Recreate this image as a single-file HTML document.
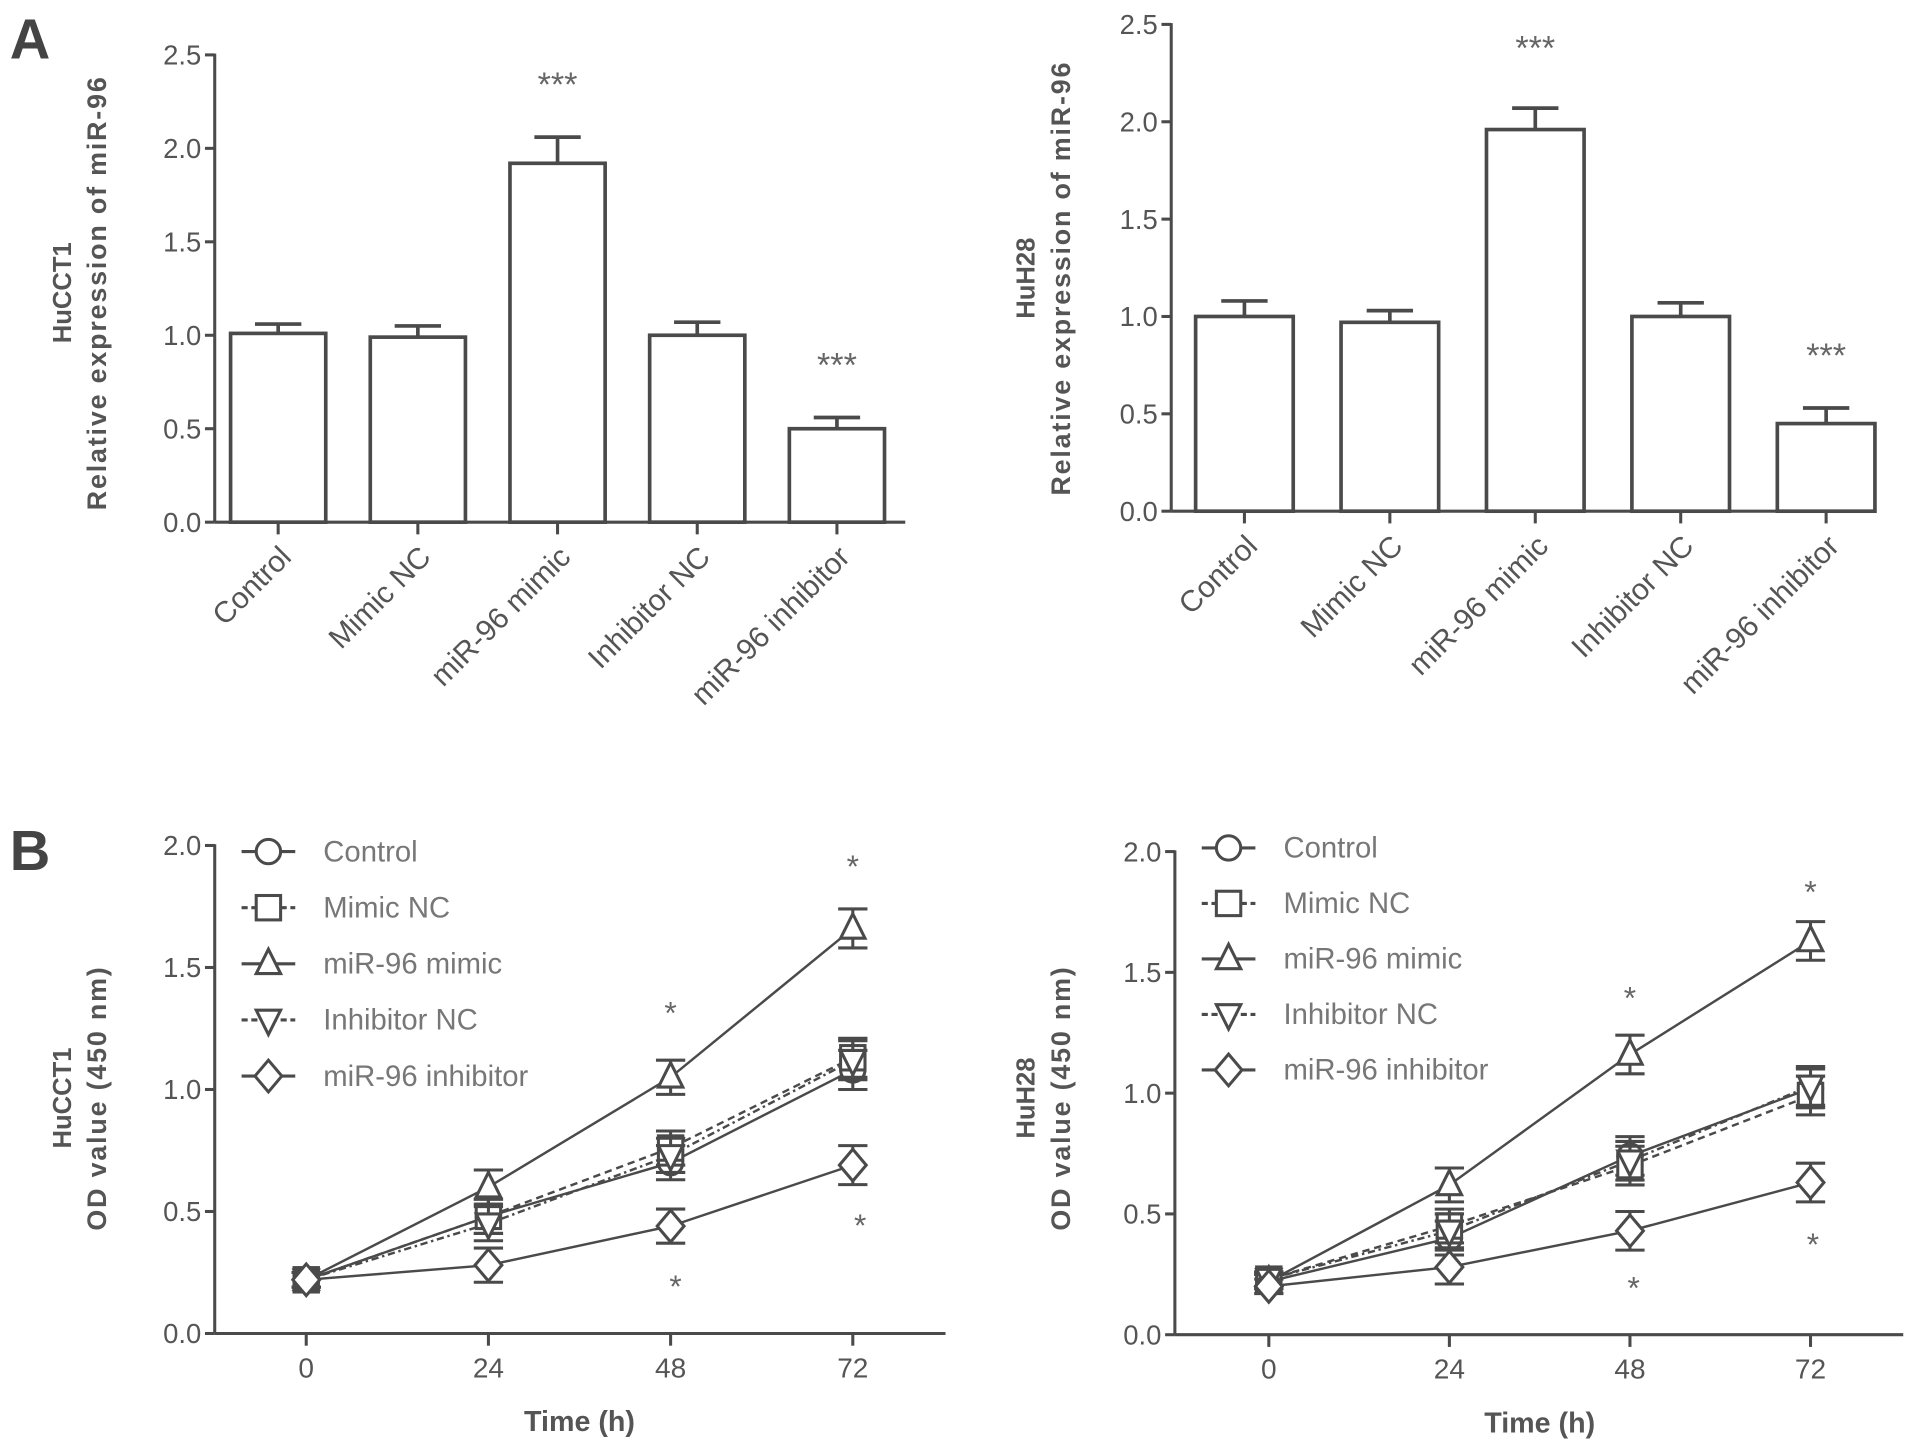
<!DOCTYPE html>
<html><head><meta charset="utf-8">
<style>
html,body{margin:0;padding:0;background:#fff;}
svg{display:block;}
text{font-family:"Liberation Sans",Arial,sans-serif;}
</style></head>
<body>
<svg id="fig" width="1913" height="1450" viewBox="0 0 1568 1188.5" xmlns="http://www.w3.org/2000/svg">
<text x="8" y="48" font-size="46" font-weight="bold" fill="#444">A</text>
<text x="8" y="713" font-size="46" font-weight="bold" fill="#444">B</text>
</svg>
<script>
const barCategories = ["Control","Mimic NC","miR-96 mimic","Inhibitor NC","miR-96 inhibitor"];
const barValuesHuCCT1 = [1.01,0.99,1.92,1.00,0.50];
const barErrHuCCT1 = [0.05,0.06,0.14,0.07,0.06];
const barValuesHuH28 = [1.00,0.97,1.96,1.00,0.45];
const barErrHuH28 = [0.08,0.06,0.11,0.07,0.08];
const barYTicks = [0,0.5,1.0,1.5,2.0,2.5];
const barYTickLabels = ["0.0","0.5","1.0","1.5","2.0","2.5"];

const timePoints = [0,24,48,72];
const lineYTicks = [0,0.5,1.0,1.5,2.0];
const lineYTickLabels = ["0.0","0.5","1.0","1.5","2.0"];
const seriesNames = ["Control","Mimic NC","miR-96 mimic","Inhibitor NC","miR-96 inhibitor"];
const huCCT1Control = [0.22,0.48,0.70,1.08];
const huCCT1MimicNC = [0.22,0.48,0.76,1.13];
const huCCT1Mimic = [0.22,0.60,1.05,1.66];
const huCCT1InhNC = [0.22,0.45,0.73,1.12];
const huCCT1Inh = [0.22,0.28,0.44,0.69];
const huCCT1Err = [0.03,0.07,0.07,0.08];
const huH28Control = [0.22,0.40,0.74,1.02];
const huH28MimicNC = [0.23,0.45,0.70,0.99];
const huH28Mimic = [0.22,0.62,1.16,1.63];
const huH28InhNC = [0.23,0.43,0.72,1.03];
const huH28Inh = [0.20,0.28,0.43,0.63];
const huH28Err = [0.03,0.07,0.08,0.08];

const svg = document.getElementById('fig');
const NS = "http://www.w3.org/2000/svg";
function mk(tag, attrs, parent){
  const e = document.createElementNS(NS, tag);
  for (const k in attrs) e.setAttribute(k, attrs[k]);
  (parent||svg).appendChild(e);
  return e;
}
const C = "#4a4a4a";

function barChart(p){
  const g = mk('g', {});
  
  
  const y = v => p.y0 + (p.y1 - p.y0) * v / 2.5;
  const x = i => p.firstC + i * p.step;
  const ya = mk('line', {x1:p.x0,y1:p.y1-1,x2:p.x0,y2:p.y0,stroke:C,'stroke-width':2.5}, g);
  
  
  const xa = mk('line', {x1:p.x0,y1:p.y0,x2:p.xEnd,y2:p.y0,stroke:C,'stroke-width':2.5}, g);
  
  
  barYTicks.forEach((t, i) => {
    mk('line', {x1:p.x0-8,y1:y(t),x2:p.x0,y2:y(t),stroke:C,'stroke-width':2.5}, g);
    const tl = mk('text', {x:p.x0-11,y:y(t)+8,'font-size':22.5,'text-anchor':'end',fill:'#555'}, g);
    tl.textContent = barYTickLabels[i];
    
    
  });
  barCategories.forEach((c, i) => {
    const cx = x(i), v = p.vals[i], e = p.errs[i];
    mk('line', {x1:cx,y1:p.y0,x2:cx,y2:p.y0+10,stroke:C,'stroke-width':2.5}, g);
    mk('line', {x1:cx,y1:y(v),x2:cx,y2:y(v+e),stroke:C,'stroke-width':3}, g);
    mk('line', {x1:cx-19,y1:y(v+e),x2:cx+19,y2:y(v+e),stroke:C,'stroke-width':3}, g);
    const r = mk('rect', {x:cx-p.bw/2,y:y(v),width:p.bw,height:p.y0-y(v),fill:'#fff',stroke:C,'stroke-width':3}, g);
    
    
    const lb = mk('text', {x:0,y:0,'font-size':24.5,'text-anchor':'end',fill:'#555',
      transform:`translate(${cx+12},${p.y0+30}) rotate(-45)`}, g);
    lb.textContent = c;
    
    
  });
  p.stars.forEach(s => {
    const st = mk('text', {x:x(s[0]),y:y(s[1]),'font-size':28,'text-anchor':'middle',fill:'#666'}, g);
    st.textContent = '***';
    
    
  });
  const t1 = mk('text', {x:0,y:0,'font-size':21,'font-weight':'bold','text-anchor':'middle',fill:'#555',
    transform:`translate(${p.labX},${p.labY}) rotate(-90)`}, g);
  t1.textContent = p.cell;
  
  
  const t2 = mk('text', {x:0,y:0,'font-size':22,'font-weight':'bold','text-anchor':'middle',fill:'#555','letter-spacing':'1.5',
    transform:`translate(${p.labX+29},${p.labY}) rotate(-90)`}, g);
  t2.textContent = 'Relative expression of miR-96';
  
  
}

barChart({name:'bar-chart-hucct1', x0:176, xEnd:742, y0:428, y1:45, firstC:228, step:114.5, bw:78,
  vals:barValuesHuCCT1, errs:barErrHuCCT1, stars:[[2,2.28],[4,0.78]], cell:'HuCCT1', labX:58, labY:240});
barChart({name:'bar-chart-huh28', x0:960, xEnd:1530, y0:419, y1:20, firstC:1020, step:119.2, bw:80,
  vals:barValuesHuH28, errs:barErrHuH28, stars:[[2,2.32],[4,0.74]], cell:'HuH28', labX:848, labY:228});

function marker(g, type, cx, cy, fill){
  const s = 10;
  const a = {fill:fill||'#fff', stroke:C, 'stroke-width':2.5};
  let m;
  if (type==='circle') m = mk('circle', Object.assign({cx:cx,cy:cy,r:s}, a), g);
  else if (type==='square') m = mk('rect', Object.assign({x:cx-s,y:cy-s,width:2*s,height:2*s}, a), g);
  else if (type==='tri') m = mk('polygon', Object.assign({points:`${cx},${cy-s-2} ${cx-s},${cy+s-2} ${cx+s},${cy+s-2}`}, a), g);
  else if (type==='itri') m = mk('polygon', Object.assign({points:`${cx},${cy+s+2} ${cx-s},${cy-s+2} ${cx+s},${cy-s+2}`}, a), g);
  else m = mk('polygon', Object.assign({points:`${cx},${cy-s-3} ${cx+s+1},${cy} ${cx},${cy+s+3} ${cx-s-1},${cy}`}, a), g);
  return m;
}

const markerTypes = ['circle','square','tri','itri','diamond'];
const dashes = ['none','6,4','none','6,3,2,3','none'];

function lineChart(p){
  const g = mk('g', {});
  
  
  const y = v => p.y0 + (p.y2 - p.y0) * v / 2.0;
  const x = t => p.xt0 + (p.xt72 - p.xt0) * t / 72;
  const ya = mk('line', {x1:p.x0,y1:p.y2-1,x2:p.x0,y2:p.y0,stroke:C,'stroke-width':2.5}, g);
  
  
  const xa = mk('line', {x1:p.x0,y1:p.y0,x2:p.xEnd,y2:p.y0,stroke:C,'stroke-width':2.5}, g);
  
  
  lineYTicks.forEach((t, i) => {
    mk('line', {x1:p.x0-8,y1:y(t),x2:p.x0,y2:y(t),stroke:C,'stroke-width':2.5}, g);
    const tl = mk('text', {x:p.x0-11,y:y(t)+8,'font-size':22.5,'text-anchor':'end',fill:'#555'}, g);
    tl.textContent = lineYTickLabels[i];
    
    
  });
  timePoints.forEach(t => {
    mk('line', {x1:x(t),y1:p.y0,x2:x(t),y2:p.y0+10,stroke:C,'stroke-width':2.5}, g);
    const tl = mk('text', {x:x(t),y:p.y0+36,'font-size':23,'text-anchor':'middle',fill:'#555'}, g);
    tl.textContent = String(t);
    
    
  });
  const xt = mk('text', {x:(p.xt0+p.xt72)/2,y:p.y0+80,'font-size':23.5,'font-weight':'bold','text-anchor':'middle',fill:'#555'}, g);
  xt.textContent = 'Time (h)';
  
  
  p.series.forEach((vals, si) => {
    const pts = timePoints.map((t, i) => `${x(t)},${y(vals[i])}`).join(' ');
    const pl = mk('polyline', {points:pts,fill:'none',stroke:C,'stroke-width':2,'stroke-dasharray':dashes[si]}, g);
    
    
  });
  p.series.forEach((vals, si) => {
    timePoints.forEach((t, i) => {
      const cx = x(t), e = p.err[i];
      mk('line', {x1:cx,y1:y(vals[i]-e),x2:cx,y2:y(vals[i]+e),stroke:C,'stroke-width':2.5}, g);
      mk('line', {x1:cx-12,y1:y(vals[i]+e),x2:cx+12,y2:y(vals[i]+e),stroke:C,'stroke-width':2.5}, g);
      mk('line', {x1:cx-12,y1:y(vals[i]-e),x2:cx+12,y2:y(vals[i]-e),stroke:C,'stroke-width':2.5}, g);
      const m = marker(g, markerTypes[si], cx, y(vals[i]));
      
      
    });
  });
  p.stars.forEach(s => {
    const st = mk('text', {x:x(s[0])+s[2],y:y(s[1])+10,'font-size':26,'text-anchor':'middle',fill:'#666'}, g);
    st.textContent = '*';
    
    
  });
  seriesNames.forEach((n, si) => {
    const ly = p.legY + si * p.legStep;
    const lg = mk('g', {}, g);
    
    
    mk('line', {x1:p.legX,y1:ly,x2:p.legX+44,y2:ly,stroke:C,'stroke-width':2.5,'stroke-dasharray':dashes[si]==='none'?'none':'5,3'}, lg);
    marker(lg, markerTypes[si], p.legX+22, ly);
    const tx = mk('text', {x:p.legX+67,y:ly+8,'font-size':24,fill:'#777'}, lg);
    tx.textContent = n;
  });
  const t1 = mk('text', {x:0,y:0,'font-size':21,'font-weight':'bold','text-anchor':'middle',fill:'#555',
    transform:`translate(${p.labX},${p.labY}) rotate(-90)`}, g);
  t1.textContent = p.cell;
  
  
  const t2 = mk('text', {x:0,y:0,'font-size':22,'font-weight':'bold','text-anchor':'middle',fill:'#555','letter-spacing':'1.5',
    transform:`translate(${p.labX+29},${p.labY}) rotate(-90)`}, g);
  t2.textContent = 'OD value (450 nm)';
  
  
}

lineChart({name:'line-chart-hucct1', x0:176, xEnd:775, y0:1093, y2:693, xt0:251, xt72:699,
  series:[huCCT1Control,huCCT1MimicNC,huCCT1Mimic,huCCT1InhNC,huCCT1Inh], err:huCCT1Err,
  stars:[[48,1.32,0],[72,1.92,0],[48,0.20,4],[72,0.45,6]],
  legX:198, legY:698, legStep:46, cell:'HuCCT1', labX:58, labY:900});
lineChart({name:'line-chart-huh28', x0:963, xEnd:1560, y0:1094, y2:698, xt0:1040, xt72:1484,
  series:[huH28Control,huH28MimicNC,huH28Mimic,huH28InhNC,huH28Inh], err:huH28Err,
  stars:[[48,1.40,0],[72,1.84,0],[48,0.20,3],[72,0.38,2]],
  legX:985, legY:695, legStep:45.5, cell:'HuH28', labX:848, labY:900});
</script>
</body></html>
